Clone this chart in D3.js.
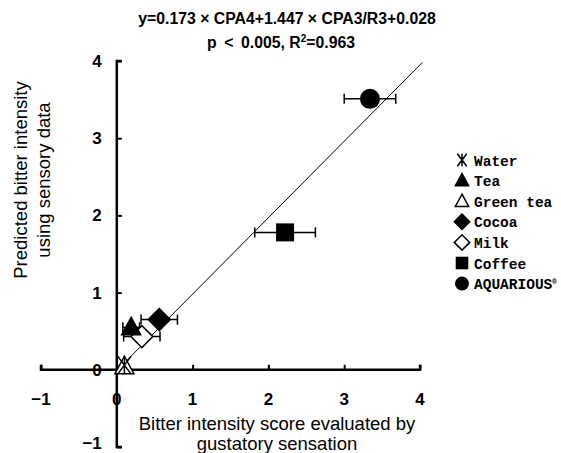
<!DOCTYPE html>
<html><head><meta charset="utf-8">
<script src="https://cdn.jsdelivr.net/npm/d3@7"></script>
<style>body{margin:0;background:#fff}</style>
</head><body>
<svg id="c" width="561" height="453"></svg>
<script>
const categories = ["Water","Tea","Green tea","Cocoa","Milk","Coffee","AQUARIOUS"];
const markerTypes = ["water","triFill","triOpen","diaFill","diaOpen","square","circle"];
const xValues = [0.10, 0.19, 0.10, 0.56, 0.33, 2.22, 3.34];
const yValues = [0.06, 0.55, 0.02, 0.65, 0.43, 1.78, 3.51];
const xErr = [0.00, 0.11, 0.00, 0.24, 0.24, 0.40, 0.34];
const xTicks = [-1, 0, 1, 2, 3, 4];
const yTicks = [-1, 0, 1, 2, 3, 4];
const fitLine = [[0.03, 0.02], [4.03, 3.98]];

const svg = d3.select("#c");
const x = d3.scaleLinear().domain([-1, 4]).range([41, 420]);
const y = d3.scaleLinear().domain([-1, 4]).range([447, 61]);

// x axis (through y=0)
const xAxis = d3.axisTop(x).tickValues(xTicks).tickSize(5).tickFormat("");
const gx = svg.append("g").attr("transform", `translate(0,${y(0)})`).call(xAxis);
gx.select(".domain").attr("d", `M${x(-1)},-5V0H${x(4)}V-5`).attr("stroke-width", 2.5);
gx.selectAll(".tick line").attr("stroke-width", 2);
// y axis (through x=0)
const yAxis = d3.axisRight(y).tickValues(yTicks).tickSize(5).tickFormat("");
const gy = svg.append("g").attr("transform", `translate(${x(0)},0)`).call(yAxis);
gy.select(".domain").attr("d", `M5,${y(4)}H0V${y(-1)}H5`).attr("stroke-width", 2.5);
gy.selectAll(".tick line").attr("stroke-width", 2);

const tickFont = "'Liberation Sans Narrow','Liberation Sans',Arial,sans-serif";
svg.selectAll(".xt").data(xTicks).enter().append("text")
  .attr("x", d => x(d)).attr("y", y(0) + 35).attr("text-anchor", "middle")
  .attr("font-family", tickFont).attr("font-weight", "bold").attr("font-size", 17)
  .text(d => d < 0 ? "\u2212" + Math.abs(d) : d);
svg.selectAll(".yt").data(yTicks).enter().append("text")
  .attr("x", x(0) - 15).attr("y", d => y(d) + (d < 0 ? 2 : 6)).attr("text-anchor", "end")
  .attr("font-family", tickFont).attr("font-weight", "bold").attr("font-size", 17)
  .text(d => d < 0 ? "\u2212" + Math.abs(d) : d);

// fit line
svg.append("line")
  .attr("x1", x(fitLine[0][0])).attr("y1", y(fitLine[0][1]))
  .attr("x2", x(fitLine[1][0])).attr("y2", y(fitLine[1][1]))
  .attr("stroke", "#000").attr("stroke-width", 1);

// error bars
const pts = categories.map((c, i) => ({c, t: markerTypes[i], x: xValues[i], y: yValues[i], e: xErr[i]}));
const eb = svg.append("g").attr("stroke", "#000").attr("stroke-width", 1.5);
pts.filter(p => p.e > 0).forEach(p => {
  const cy = y(p.y);
  eb.append("line").attr("x1", x(p.x - p.e)).attr("x2", x(p.x + p.e)).attr("y1", cy).attr("y2", cy);
  [p.x - p.e, p.x + p.e].forEach(v => eb.append("line").attr("x1", x(v)).attr("x2", x(v)).attr("y1", cy - 5).attr("y2", cy + 5));
});

function drawMarker(g, t, cx, cy, k) {
  if (t === "circle") {
    g.append("circle").attr("cx", cx).attr("cy", cy).attr("r", 10 * k).attr("fill", "#000");
  } else if (t === "square") {
    g.append("rect").attr("x", cx - 9 * k).attr("y", cy - 9 * k).attr("width", 18 * k).attr("height", 18 * k).attr("fill", "#000");
  } else if (t === "diaFill" || t === "diaOpen") {
    const r = 11 * k;
    g.append("path").attr("d", `M${cx},${cy - r}L${cx + r},${cy}L${cx},${cy + r}L${cx - r},${cy}Z`)
      .attr("fill", t === "diaFill" ? "#000" : "#fff").attr("stroke", "#000").attr("stroke-width", 1.5);
  } else if (t === "triFill" || t === "triOpen") {
    const r = 10 * k;
    g.append("path").attr("d", `M${cx},${cy - r}L${cx + r * 0.95},${cy + r * 0.75}L${cx - r * 0.95},${cy + r * 0.75}Z`)
      .attr("fill", t === "triFill" ? "#000" : "#fff").attr("stroke", "#000").attr("stroke-width", 1.5);
  } else if (t === "water") {
    const r = 9 * k;
    g.append("path").attr("d", `M${cx - r * 0.75},${cy - r}L${cx + r * 0.75},${cy + r}M${cx + r * 0.75},${cy - r}L${cx - r * 0.75},${cy + r}M${cx},${cy - r}V${cy + r}`)
      .attr("fill", "none").attr("stroke", "#000").attr("stroke-width", 1.5);
  }
}
const order = [2, 0, 4, 1, 3, 5, 6];
const mg = svg.append("g");
order.forEach(i => drawMarker(mg, pts[i].t, x(pts[i].x), y(pts[i].y) + (pts[i].t === "triOpen" ? -2 : 0), 1));

// legend
const lg = svg.append("g");
categories.forEach((c, i) => {
  const ly = 160 + i * 20.6;
  drawMarker(lg, markerTypes[i], 462, ly, 0.7);
  const tx = lg.append("text").attr("x", 474).attr("y", ly + 5.5)
    .attr("font-family", "'Liberation Mono','DejaVu Sans Mono',monospace").attr("font-weight", "bold")
    .attr("font-size", 14.5).text(c);
  if (c === "AQUARIOUS") tx.append("tspan").attr("font-size", 7).attr("dy", -5).text("\u00ae");
});

// title
const tf = "'Liberation Sans',Arial,sans-serif";
svg.append("text").attr("x", 287).attr("y", 24).attr("text-anchor", "middle")
  .attr("font-family", tf).attr("font-weight", "bold").attr("font-size", 15.8)
  .text("y=0.173 \u00d7 CPA4+1.447 \u00d7 CPA3/R3+0.028");
const t2 = svg.append("text").attr("x", 281).attr("y", 48).attr("text-anchor", "middle")
  .attr("font-family", tf).attr("font-weight", "bold").attr("font-size", 15.8)
  .style("white-space", "pre");
t2.append("tspan").text("p \u2009<\u2009 0.005, R");
t2.append("tspan").attr("font-size", 10).attr("dy", -6).text("2");
t2.append("tspan").attr("dy", 6).text("=0.963");

// axis titles
svg.append("text").attr("x", 277).attr("y", 430).attr("text-anchor", "middle")
  .attr("font-family", tf).attr("font-size", 18.5).text("Bitter intensity score evaluated by");
svg.append("text").attr("x", 277).attr("y", 450).attr("text-anchor", "middle")
  .attr("font-family", tf).attr("font-size", 18.5).text("gustatory sensation");
const yt = svg.append("g").attr("transform", "translate(0,180) rotate(-90)");
yt.append("text").attr("x", 0).attr("y", 27).attr("text-anchor", "middle")
  .attr("font-family", tf).attr("font-size", 18.5).text("Predicted bitter intensity");
yt.append("text").attr("x", 0).attr("y", 50).attr("text-anchor", "middle")
  .attr("font-family", tf).attr("font-size", 18.5).text("using sensory data");
</script>
</body></html>
